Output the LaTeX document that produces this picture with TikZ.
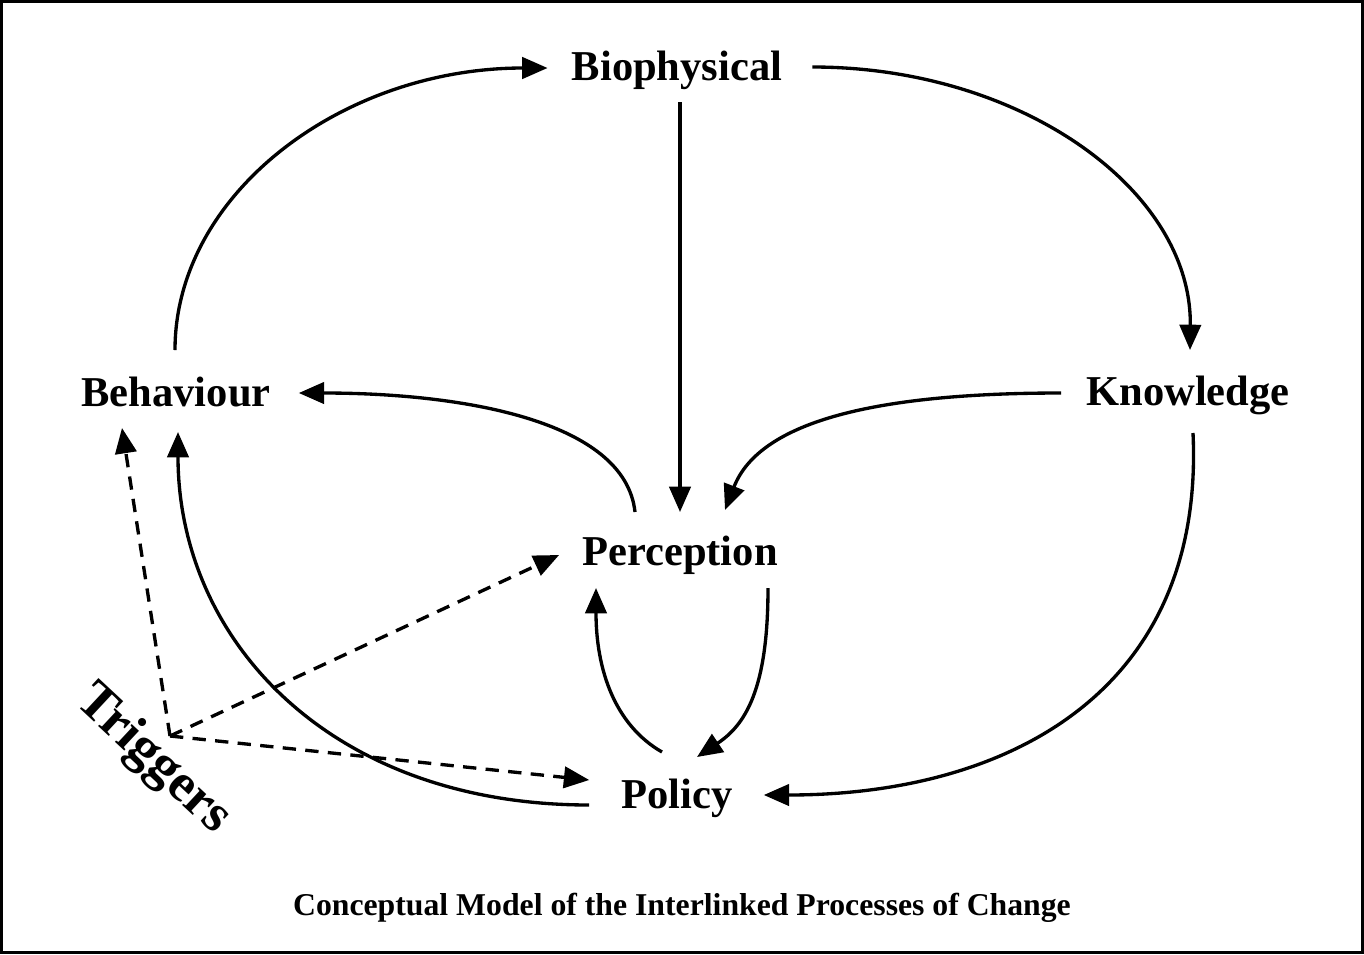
\documentclass[tikz,border=0pt]{standalone}
\usepackage{fontspec}
\setmainfont{Liberation Serif}
\usetikzlibrary{arrows.meta,calc}
\begin{document}
\begin{tikzpicture}[x=0.75pt,y=-0.75pt,
  lbl/.style={font=\fontsize{31.9pt}{36pt}\selectfont\bfseries, inner sep=0pt, anchor=base},
  conn/.style={line width=2.5pt, -{Triangle[length=19pt,width=16pt]}},
  dconn/.style={conn, dash pattern=on 10pt off 7pt}]
\useasboundingbox (0,0) rectangle (1364,954);
\draw[line width=2.25pt] (1.5,1.5) rectangle (1362.5,952.5);
\node[lbl] (bio) at (677,80) {Biophysical};
\node[lbl] (beh) at (176,406) {Behaviour};
\node[lbl] (know) at (1188,405) {Knowledge};
\node[lbl] (perc) at (680,565) {Perception};
\node[lbl] (pol) at (677,808) {Policy};
\node[font=\fontsize{23.8pt}{28pt}\selectfont\bfseries, inner sep=0pt, anchor=base] (cap) at (682,915) {Conceptual Model of the Interlinked Processes of Change};
\node[font=\fontsize{40pt}{46pt}\selectfont\bfseries, inner sep=0pt, rotate=-43] (trg) at (153,760) {Triggers};
\coordinate (trig) at (170,736);
\draw[conn] ($(beh.base)+(-1,-56)$) .. controls (175,194) and (342,68) .. ($(bio.base west)+(-24,-12)$);
\draw[conn] ($(bio.base east)+(30,-13)$) .. controls (1021,67) and (1192,190) .. ($(know.base)+(2,-55)$);
\draw[conn] ($(bio.base)+(3,22)$) -- ($(perc.base)+(0,-53)$);
\draw[conn] ($(know.base west)+(-25,-12)$) .. controls (880,393) and (760,420) .. ($(perc.base)+(45,-55)$);
\draw[conn] ($(perc.base)+(-45,-53)$) .. controls (625,420) and (460,393) .. ($(beh.base east)+(28,-13)$);
\draw[conn] ($(pol.base west)+(-32,-3)$) .. controls (330,805) and (178,640) .. ($(beh.base)+(2,26)$);
\draw[conn] ($(know.base)+(5,28)$) .. controls (1205,690) and (1010,795) .. ($(pol.base east)+(31,-13)$);
\draw[conn] ($(perc.base)+(88,23)$) .. controls (768,690) and (745,725) .. ($(pol.base)+(20,-51)$);
\draw[conn] ($(pol.base)+(-15,-56)$) .. controls (615,725) and (596,670) .. ($(perc.base)+(-84,23)$);
\draw[dconn] (trig) -- ($(beh.base)+(-54,22)$);
\draw[dconn] (trig) -- ($(perc.base west)+(-23,-10)$);
\draw[dconn] (trig) -- ($(pol.base west)+(-32,-28)$);
\end{tikzpicture}
\end{document}
